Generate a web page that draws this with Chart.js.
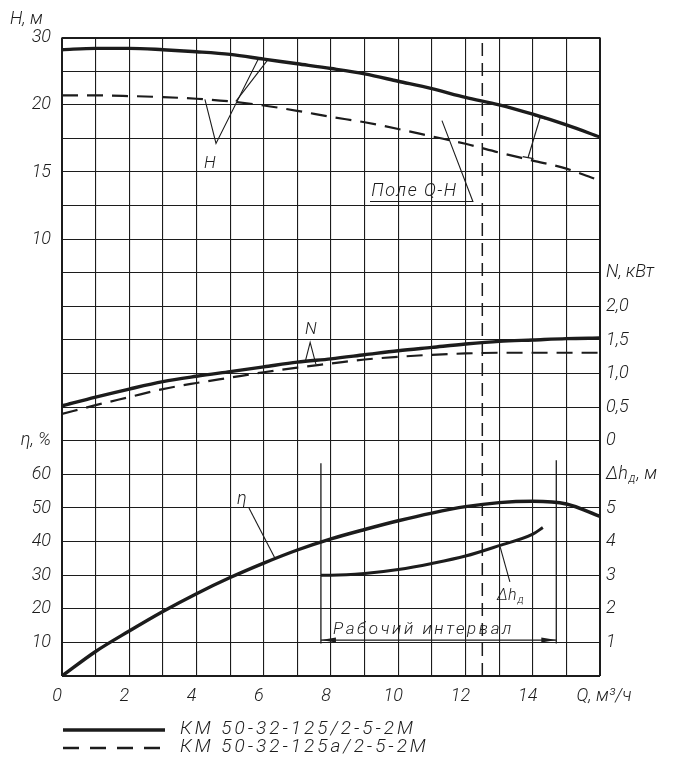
<!DOCTYPE html>
<html>
<head>
<meta charset="utf-8">
<script src="https://cdn.jsdelivr.net/npm/chart.js@4.4.1/dist/chart.umd.min.js"></script>
<style>
html, body { margin: 0; padding: 0; background: #fff; }
</style>
</head>
<body>
<canvas id="pumpChart" width="687" height="767"></canvas>
<script>
// подача, м3/ч
const flow = [0, 1, 2, 3, 4, 5, 6, 7, 8, 9, 10, 11, 12, 13, 14, 15, 16];
// напор, м
const headA = [24.1, 24.2, 24.2, 24.1, 23.95, 23.75, 23.4, 23.05, 22.7, 22.3, 21.75, 21.2, 20.55, 20.0, 19.3, 18.5, 17.6];
const headB = [20.7, 20.7, 20.65, 20.57, 20.45, 20.25, 19.95, 19.55, 19.1, 18.7, 18.2, 17.65, 17.1, 16.45, 15.85, 15.25, 14.35];
// мощность, кВт
const powerA = [0.52, 0.65, 0.77, 0.88, 0.96, 1.03, 1.10, 1.17, 1.22, 1.28, 1.34, 1.39, 1.44, 1.48, 1.50, 1.52, 1.53];
const powerB = [0.40, 0.53, 0.65, 0.77, 0.86, 0.94, 1.02, 1.09, 1.15, 1.21, 1.25, 1.28, 1.30, 1.31, 1.31, 1.31, 1.31];
// КПД, %
const efficiency = [0, 7.3, 13.4, 19.2, 24.5, 29.3, 33.6, 37.5, 40.8, 43.6, 46.2, 48.5, 50.4, 51.6, 52.0, 51.2, 47.5];
// допустимый кавитационный запас
const npshFlow = [7.7, 8, 9, 10, 11, 12, 13, 14, 14.3];
const npsh = [3.0, 3.0, 3.05, 3.17, 3.35, 3.57, 3.88, 4.22, 4.42];

const nominalFlow = 12.5;
const workRange = [7.7, 14.7];

// подписи осей
const xTicks = [0, 2, 4, 6, 8, 10, 12, 14];
const hTicks = [10, 15, 20, 25];
const hTickText = ['10', '15', '20', '30'];
const etaTicks = [10, 20, 30, 40, 50, 60];
const nTicks = [0, 0.5, 1.0, 1.5, 2.0];
const dhTicks = [1, 2, 3, 4, 5];
const legendNames = ['КМ 50-32-125/2-5-2М', 'КМ 50-32-125а/2-5-2М'];

const INK = '#1c1c1c';
const FONT = 'Roboto, "DejaVu Sans", sans-serif';
const CELLS = 19;

// все шкалы делят одну сетку 19 клеток по высоте
const axH = { min: -22.5, max: 25 };
const axN = { min: -3.5, max: 6 };
const axEta = { min: 0, max: 190 };
const axDh = { min: 0, max: 19 };

const cellsTo = (ax, c) => ax.min + c * (ax.max - ax.min) / CELLS;
const find = (list, v) => list.findIndex(t => Math.abs(t - v) < 1e-6);
const comma = v => v === 0 ? '0' : v.toFixed(1).replace('.', ',');
const pairs = (xs, ys) => xs.map((q, i) => ({ x: q, y: ys[i] }));

function leftLabel(c) {
    const h = find(hTicks, cellsTo(axH, c));
    if (h >= 0) return hTickText[h];
    const eta = cellsTo(axEta, c);
    if (find(etaTicks, eta) >= 0) return String(eta);
    if (Math.abs(eta - (etaTicks[etaTicks.length - 1] + 10)) < 1e-6) return 'η, %';
    return '';
}

function rightLabel(c) {
    const n = cellsTo(axN, c);
    if (find(nTicks, n) >= 0) return comma(n);
    if (Math.abs(n - (nTicks[nTicks.length - 1] + 0.5)) < 1e-6) return 'N, кВт';
    const dh = cellsTo(axDh, c);
    if (find(dhTicks, dh) >= 0) return String(dh);
    return '';
}

const tickFont = { family: FONT, size: 18, style: 'italic', weight: '300' };

const overlay = {
    id: 'overlay',
    afterDatasetsDraw(chart) {
        const { ctx, chartArea: a, scales: { x, y } } = chart;
        const X = q => x.getPixelForValue(q);
        const Y = c => y.getPixelForValue(c);
        const path = (pts, w, dash) => {
            ctx.beginPath();
            ctx.lineWidth = w || 1.2;
            ctx.setLineDash(dash || []);
            pts.forEach((p, i) => i ? ctx.lineTo(X(p[0]), Y(p[1])) : ctx.moveTo(X(p[0]), Y(p[1])));
            ctx.stroke();
        };
        const text = (s, q, c, size, align) => {
            ctx.font = `italic 300 ${size}px ${FONT}`;
            ctx.textAlign = align || 'left';
            ctx.fillText(s, X(q), Y(c));
        };
        ctx.save();
        ctx.strokeStyle = INK;
        ctx.fillStyle = INK;
        ctx.textBaseline = 'alphabetic';

        // номинальная подача
        path([[nominalFlow, 0], [nominalFlow, CELLS]], 1.5, [13, 7]);

        // выноски H
        path([[4.25, 17.16], [4.58, 15.85], [5.83, 18.35]], 1.1);
        path([[5.17, 17.10], [6.13, 18.35]], 1.1);
        ctx.textBaseline = 'middle';
        text('Н', 4.40, 15.25, 17, 'center');
        ctx.textBaseline = 'alphabetic';

        // поле Q-H
        path([[14.05, 16.68], [14.38, 16.58]], 1.2);
        path([[14.22, 16.62], [13.86, 15.43]], 1.2);
        path([[13.70, 15.46], [14.02, 15.40]], 1.2);
        ctx.letterSpacing = '1.5px';
        text('Поле Q-Н', 9.2, 14.28, 18);
        ctx.letterSpacing = '0px';
        path([[9.16, 14.12], [12.22, 14.12], [11.3, 16.53]], 1.1);

        // выноска N
        path([[7.23, 9.34], [7.38, 9.93], [7.55, 9.28]], 1.1);
        ctx.textBaseline = 'middle';
        text('N', 7.40, 10.3, 17, 'center');
        text('η', 5.35, 5.25, 18, 'center');
        ctx.textBaseline = 'alphabetic';
        path([[5.56, 5.0], [6.33, 3.51]], 1.1);

        // Δhд
        text('Δh', 12.94, 2.26, 16);
        let w = ctx.measureText('Δh').width;
        ctx.font = `italic 300 11px ${FONT}`;
        ctx.fillText('д', X(12.94) + w + 1, Y(2.26) + 3);
        path([[13.03, 3.84], [13.32, 2.80]], 1.1);

        // рабочий интервал
        path([[workRange[0], 0.97], [workRange[0], 6.33]], 1.3);
        path([[workRange[1], 0.97], [workRange[1], 6.42]], 1.3);
        path([[workRange[0], 1.07], [workRange[1], 1.07]], 1.2);
        const ay = Y(1.07);
        [[X(workRange[0]), 1], [X(workRange[1]), -1]].forEach(([ax, d]) => {
            ctx.beginPath();
            ctx.moveTo(ax, ay);
            ctx.lineTo(ax + d * 15, ay - 2.5);
            ctx.lineTo(ax + d * 15, ay + 2.5);
            ctx.closePath();
            ctx.fill();
        });
        ctx.letterSpacing = '2.6px';
        text('Рабочий интервал', 8.06, 1.25, 17);
        ctx.letterSpacing = '0px';

        // подпись оси Δh
        ctx.font = `italic 300 18px ${FONT}`;
        ctx.textAlign = 'left';
        ctx.textBaseline = 'middle';
        const rx = a.right + 6, ry = Y(cellsTo(axDh, dhTicks[dhTicks.length - 1] + 1));
        ctx.fillText('Δh', rx, ry);
        w = ctx.measureText('Δh').width;
        ctx.font = `italic 300 12px ${FONT}`;
        ctx.fillText('д', rx + w + 1, ry + 5);
        const w2 = ctx.measureText('д').width;
        ctx.font = `italic 300 18px ${FONT}`;
        ctx.fillText(', м', rx + w + w2 + 2, ry);

        // условные обозначения
        const ly = [a.bottom + 54, a.bottom + 72];
        [[], [16, 11]].forEach((dash, i) => {
            ctx.beginPath();
            ctx.lineWidth = i ? 2.4 : 3.4;
            ctx.setLineDash(dash);
            ctx.moveTo(a.left + 1, ly[i]);
            ctx.lineTo(a.left + 103, ly[i]);
            ctx.stroke();
            ctx.setLineDash([]);
            ctx.font = `italic 300 19px ${FONT}`;
            ctx.letterSpacing = '3px';
            ctx.textBaseline = 'middle';
            ctx.fillText(legendNames[i], a.left + 118, ly[i] - 1);
            ctx.letterSpacing = '0px';
        });
        ctx.restore();
    }
};

const solid = { borderColor: INK, borderWidth: 3.4 };
const dashed = { borderColor: INK, borderWidth: 2.2, borderDash: [16, 9] };

new Chart(document.getElementById('pumpChart'), {
    type: 'line',
    data: {
        datasets: [
            { label: 'H', data: pairs(flow, headA), yAxisID: 'yH', ...solid },
            { label: 'H а', data: pairs(flow, headB), yAxisID: 'yH', ...dashed },
            { label: 'N', data: pairs(flow, powerA), yAxisID: 'yN', ...solid },
            { label: 'N а', data: pairs(flow, powerB), yAxisID: 'yN', ...dashed },
            { label: 'η', data: pairs(flow, efficiency), yAxisID: 'yEta', ...solid },
            { label: 'Δh', data: pairs(npshFlow, npsh), yAxisID: 'yDh', ...solid, borderWidth: 3 }
        ]
    },
    options: {
        responsive: false,
        animation: false,
        devicePixelRatio: 1,
        layout: { padding: { left: 10, right: 0, top: 0, bottom: 56 } },
        elements: {
            point: { radius: 0 },
            line: { cubicInterpolationMode: 'monotone', fill: false, capBezierPoints: true }
        },
        plugins: {
            legend: { display: false },
            tooltip: { enabled: false },
            title: {
                display: true,
                text: 'Н, м',
                align: 'start',
                color: INK,
                font: { family: FONT, size: 18, style: 'italic', weight: '300' },
                padding: { top: 9, bottom: 7 }
            }
        },
        scales: {
            x: {
                type: 'linear',
                min: 0,
                max: 16,
                afterFit: s => { s.height = 35; },
                border: { display: false },
                grid: {
                    color: INK,
                    lineWidth: c => (c.index === 0 || c.index === 16) ? 2 : 1.1,
                    drawTicks: false
                },
                ticks: {
                    stepSize: 1,
                    autoSkip: false,
                    maxRotation: 0,
                    padding: 10,
                    labelOffset: -5,
                    color: INK,
                    font: tickFont,
                    callback: v => v === 16 ? '\u2002\u2002Q, м³/ч' : (find(xTicks, v) >= 0 ? String(v) : '')
                }
            },
            y: {
                position: 'left',
                min: 0,
                max: CELLS,
                afterFit: s => { s.width = 52; },
                border: { display: false },
                grid: {
                    color: INK,
                    lineWidth: c => (c.index === 0 || c.index === CELLS) ? 2 : 1.1,
                    drawTicks: false
                },
                ticks: {
                    stepSize: 1,
                    autoSkip: false,
                    padding: 11,
                    color: INK,
                    font: tickFont,
                    callback: leftLabel
                }
            },
            yR: {
                position: 'right',
                min: 0,
                max: CELLS,
                afterFit: s => { s.width = 87; },
                border: { display: false },
                grid: { display: false, drawTicks: false },
                ticks: {
                    stepSize: 1,
                    autoSkip: false,
                    padding: 6,
                    color: INK,
                    font: tickFont,
                    callback: rightLabel
                }
            },
            yH: { display: false, min: axH.min, max: axH.max },
            yN: { display: false, min: axN.min, max: axN.max },
            yEta: { display: false, min: axEta.min, max: axEta.max },
            yDh: { display: false, min: axDh.min, max: axDh.max }
        }
    },
    plugins: [overlay]
});
</script>
</body>
</html>
